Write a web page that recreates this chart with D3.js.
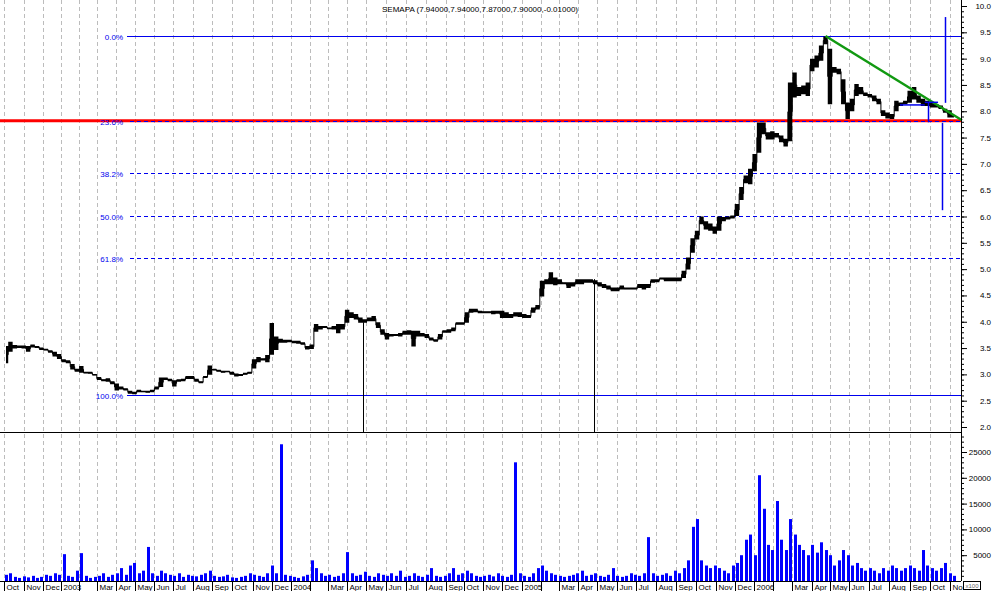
<!DOCTYPE html>
<html><head><meta charset="utf-8">
<script src="https://cdn.jsdelivr.net/npm/d3@7"></script>
<style>
body{margin:0;background:#fff}
svg{display:block}
text{font-family:"Liberation Sans",Arial,sans-serif}
</style>
</head><body>
<svg id="chart" width="994" height="591"></svg>
<script>
// ---------------- DATA ----------------
const symbol = "SEMAPA";
const lastBar = [7.94, 7.94, 7.87, 7.90, -0.01]; // open, high, low, close, change
// weekly samples (trading-week index 0 = week of 2002-09-30)
const highs = [
3.55,3.63,3.57,3.56,3.56,3.55,3.58,3.55,3.52,3.50,
3.47,3.44,3.40,3.30,3.28,3.21,3.12,3.17,3.06,3.06,
3.02,2.96,2.92,2.94,2.88,2.84,2.78,2.75,2.70,2.68,
2.72,2.70,2.70,2.72,2.78,2.95,2.95,2.93,2.90,2.92,
2.93,2.98,2.98,2.93,2.88,2.98,3.18,3.12,3.10,3.08,
3.08,3.06,3.03,3.02,3.04,3.06,3.30,3.34,3.32,3.38,
3.99,3.73,3.69,3.67,3.67,3.65,3.65,3.62,3.55,3.58,
3.97,3.93,3.93,3.90,3.93,3.97,3.97,4.24,4.19,4.16,
4.09,4.06,4.09,4.12,4.00,3.87,3.80,3.78,3.78,3.80,
3.84,3.85,3.84,3.84,3.80,3.78,3.71,3.68,3.78,3.85,
3.87,3.90,4.00,4.00,4.19,4.26,4.26,4.22,4.21,4.21,
4.22,4.22,4.22,4.19,4.16,4.19,4.19,4.16,4.14,4.28,
4.33,4.79,4.82,4.95,4.85,4.82,4.76,4.76,4.76,4.82,
4.82,4.82,4.82,4.80,4.76,4.73,4.70,4.66,4.66,4.70,
4.66,4.66,4.66,4.73,4.73,4.73,4.82,4.82,4.85,4.85,
4.85,4.85,4.85,4.98,5.23,5.60,5.74,6.01,5.92,5.88,
5.82,6.01,6.00,6.01,6.03,6.25,6.57,6.79,6.92,7.20,
7.80,7.80,7.61,7.63,7.60,7.55,7.49,8.56,8.75,8.47,
8.50,8.56,9.01,9.07,9.26,9.43,9.20,8.85,8.82,8.62,
8.18,8.25,8.53,8.47,8.37,8.34,8.31,8.25,8.03,7.99,
7.96,8.21,8.18,8.21,8.40,8.47,8.31,8.25,8.21,8.18,
8.15,8.12,8.06,8.03,7.94];
const lows = [
3.20,3.42,3.48,3.49,3.48,3.42,3.50,3.49,3.45,3.44,
3.40,3.33,3.28,3.22,3.20,3.08,3.04,3.02,3.02,3.00,
2.97,2.88,2.86,2.85,2.80,2.68,2.70,2.68,2.62,2.61,
2.65,2.66,2.64,2.65,2.70,2.75,2.88,2.86,2.76,2.85,
2.86,2.90,2.90,2.85,2.82,2.92,2.98,3.06,3.04,3.02,
3.03,2.98,2.95,2.96,2.98,3.00,3.10,3.22,3.25,3.22,
3.36,3.45,3.59,3.59,3.60,3.58,3.57,3.55,3.46,3.47,
3.80,3.84,3.87,3.85,3.84,3.77,3.84,3.97,4.06,4.03,
3.97,3.97,4.00,4.00,3.87,3.74,3.65,3.71,3.72,3.71,
3.74,3.74,3.52,3.71,3.71,3.68,3.63,3.61,3.65,3.78,
3.78,3.81,3.93,3.93,3.97,4.16,4.17,4.15,4.15,4.15,
4.13,4.14,4.06,4.06,4.06,4.09,4.08,4.06,4.06,4.16,
4.22,4.47,4.70,4.70,4.68,4.70,4.70,4.63,4.66,4.70,
4.70,4.73,4.73,4.70,4.66,4.63,4.60,4.57,4.57,4.60,
4.60,4.60,4.60,4.63,4.60,4.63,4.73,4.74,4.79,4.76,
4.76,4.76,4.76,4.82,4.98,5.30,5.55,5.84,5.74,5.72,
5.66,5.72,5.90,5.93,5.95,6.00,6.30,6.62,6.60,6.85,
7.20,7.55,7.45,7.45,7.49,7.40,7.32,7.42,8.25,8.28,
8.31,8.28,8.75,8.82,8.95,9.26,8.12,8.72,8.69,8.12,
7.84,7.99,8.28,8.31,8.28,8.25,8.18,8.12,7.90,7.85,
7.84,7.99,8.09,8.12,8.15,8.21,8.15,8.09,8.09,8.06,
8.06,8.03,7.96,7.87,7.87];
const volumes = [ // x100 shares, peak session of each week
1200,1500,800,600,900,700,1000,600,800,1200,
1000,1500,1200,5200,1000,800,2000,5400,1000,600,
800,1000,1500,800,1200,1500,2500,1200,3000,3500,
1500,2000,6600,1500,1000,2000,1500,1200,1000,1500,
800,1200,1000,900,1200,1500,2000,1000,800,900,
1200,700,600,800,1000,1500,1200,1000,800,1500,
3000,1500,26500,1200,1000,800,600,900,1200,4000,
2500,1500,1000,1200,800,1000,1500,5600,1500,1000,
1200,1800,1000,800,1500,1200,1000,1500,1000,2000,
800,1000,1500,1000,800,1200,2500,1000,800,1000,
1500,2500,1200,1500,2000,1500,1000,800,1000,1200,
900,1500,1000,800,1200,23000,1500,1000,800,1500,
2500,3000,2000,1500,1200,1000,800,1000,1200,1500,
2000,1000,1200,1500,1000,800,1200,2500,1000,800,
1000,1500,1200,1000,1500,8500,1500,1000,1200,1500,
1000,2000,1500,2500,4000,10500,12000,4000,3000,2500,
3000,2500,2000,1500,3000,3500,5000,8000,9000,5000,
20500,14000,7000,6000,15500,8000,6000,12000,9000,7000,
6000,5000,7000,5500,7500,6000,5000,3000,4000,6000,
5000,3000,3500,2500,2000,2500,2000,1500,2500,2000,
3000,2500,2000,2500,3000,2500,2000,6000,3000,2500,
2000,2500,3500,1500,1000];

// month axis: label and the week index where each month starts
const monthNames = ["Oct","Nov","Dec","2003","Feb","Mar","Apr","May","Jun","Jul","Aug","Sep","Oct","Nov","Dec",
  "2004","Feb","Mar","Apr","May","Jun","Jul","Aug","Sep","Oct","Nov","Dec",
  "2005","Feb","Mar","Apr","May","Jun","Jul","Aug","Sep","Oct","Nov","Dec",
  "2006","Feb","Mar","Apr","May","Jun","Jul","Aug","Sep","Oct","Nov"];
const monthStartWeek = [-0.45,4.06,8.35,12.42,16.48,20.54,24.83,29.1,33.4,37.7,42.2,46.5,51.0,55.8,60.0,
  64.3,68.6,72.7,77.0,81.3,85.8,90.3,94.8,99.3,103.4,107.7,112.0,
  116.5,120.8,124.8,129.1,133.4,137.9,142.2,146.7,151.2,155.8,160.3,164.6,
  168.8,173.1,177.4,181.9,186.0,190.3,194.8,199.3,204.1,208.6,213.1];
const hiddenMonthLabels = ["Feb"]; // crowded out by the year label

const priceTickLabels = ["2.0","2.5","3.0","3.5","4.0","4.5","5.0","5.5","6.0","6.5","7.0","7.5","8.0","8.5","9.0","9.5","10.0"];
const volumeTickLabels = ["5000","10000","15000","20000","25000"];

// Fibonacci retracement between swing low and swing high
const fibHigh = 9.43, fibLow = 2.605;
const fibLevels = [0, 23.6, 38.2, 50.0, 61.8, 100.0];
// drawn objects in (week index, price)
const trendLine = [[185, 9.43], [215.8, 7.83]];
const redLevel = 7.82;
const blueVerticals = [[211.96, 9.79, 8.16], [211.3, 7.78, 6.12], [208.1, 8.17, 7.79]];
const blueHorizontals = [[201.8, 207.4, 8.12], [207.4, 210.4, 8.17]];
const blackVerticals = [[80.6, 3.99], [132.7, 4.81]];

// ---------------- CHART ----------------
const svg = d3.select("#chart");
const H = 591;
const plotRight = 961, sepY = 432, volBase = 581;

const bars = highs.map((h, i) => ({i, high: h, low: lows[i], vol: volumes[i]}));

const x = d3.scaleLinear().domain([0, highs.length - 1]).range([6, 954]);
const y = d3.scaleLinear().domain([2, 10]).range([427, 6]);
const yv = d3.scaleLinear().domain([0, 25000]).range([volBase, volBase - 129]);

const defs = svg.append("defs");
defs.append("clipPath").attr("id", "plot").append("rect").attr("x", 0).attr("y", 0).attr("width", plotRight).attr("height", sepY);
defs.append("clipPath").attr("id", "vol").append("rect").attr("x", 0).attr("y", sepY).attr("width", plotRight).attr("height", volBase - sepY);

const months = monthNames.map((n, k) => ({name: n, w: monthStartWeek[k]}));
const px = v => Math.round(x(v)) + 0.5;

// month grid
svg.append("g").selectAll("line").data(months).join("line")
  .attr("x1", d => px(d.w)).attr("x2", d => px(d.w))
  .attr("y1", 0).attr("y2", volBase)
  .attr("stroke", "#bcbcbc").attr("stroke-dasharray", "4,3");

// Fibonacci lines
const fibPrice = p => fibHigh - (fibHigh - fibLow) * p / 100;
const fib = svg.append("g").attr("clip-path", "url(#plot)");
fib.append("line").attr("x1", 0).attr("x2", plotRight)
  .attr("y1", y(redLevel)).attr("y2", y(redLevel))
  .attr("stroke", "#ff0000").attr("stroke-width", 3);
fibLevels.forEach(p => {
  const yy = Math.round(y(fibPrice(p))) + 0.5;
  const solid = (p === 0 || p === 100);
  fib.append("line").attr("x1", solid ? 127 : 130).attr("x2", plotRight)
    .attr("y1", yy).attr("y2", yy)
    .attr("stroke", "#0000ee").attr("stroke-width", 1)
    .attr("stroke-dasharray", solid ? null : "4,3");
  svg.append("text").attr("x", 123).attr("y", yy + 3)
    .attr("text-anchor", "end").attr("font-size", 8).attr("fill", "#0000ee")
    .text(p.toFixed(1) + "%");
});

// price band (weekly high-low range) plus a thin connecting mid line
const yTop = d => y(d.high) + 0.6;
const yBot = d => Math.max(y(d.low) - 0.6, yTop(d) + 1.6);
const band = d3.area().curve(d3.curveStep).x(d => x(d.i)).y0(yBot).y1(yTop);
const pg = svg.append("g").attr("clip-path", "url(#plot)");
pg.append("path").datum(bars).attr("d", band).attr("fill", "#000");
pg.append("path").datum(bars)
  .attr("d", d3.line().curve(d3.curveStep).x(d => x(d.i)).y(d => (yTop(d) + yBot(d)) / 2))
  .attr("fill", "none").attr("stroke", "#000").attr("stroke-width", 1);

// black vertical lines down to separator
svg.append("g").selectAll("line").data(blackVerticals).join("line")
  .attr("x1", d => px(d[0])).attr("x2", d => px(d[0]))
  .attr("y1", d => y(d[1])).attr("y2", sepY).attr("stroke", "#000");

// trend line
svg.append("line").attr("x1", x(trendLine[0][0])).attr("y1", y(trendLine[0][1]))
  .attr("x2", x(trendLine[1][0])).attr("y2", y(trendLine[1][1]))
  .attr("stroke", "#119911").attr("stroke-width", 2.5);

// blue drawn objects
const blueG = svg.append("g").attr("stroke", "#0000ee").attr("stroke-width", 1.5);
blueVerticals.forEach(d => {
  blueG.append("line").attr("x1", px(d[0])).attr("x2", px(d[0])).attr("y1", y(d[1])).attr("y2", y(d[2]));
});
blueHorizontals.forEach(d => {
  blueG.append("line").attr("x1", x(d[0])).attr("x2", x(d[1])).attr("y1", y(d[2])).attr("y2", y(d[2]));
});

// volume bars
svg.append("g").attr("clip-path", "url(#vol)").selectAll("rect").data(bars).join("rect")
  .attr("x", d => Math.round(x(d.i)) - 1).attr("width", 3)
  .attr("y", d => yv(d.vol)).attr("height", d => volBase - yv(d.vol))
  .attr("fill", "#0000ff");

// frame lines
svg.append("line").attr("x1", 0).attr("x2", plotRight).attr("y1", sepY + 0.5).attr("y2", sepY + 0.5).attr("stroke", "#000");
svg.append("line").attr("x1", 0).attr("x2", plotRight).attr("y1", volBase + 0.5).attr("y2", volBase + 0.5).attr("stroke", "#000");
svg.append("line").attr("x1", plotRight + 0.5).attr("x2", plotRight + 0.5).attr("y1", 0).attr("y2", volBase).attr("stroke", "#000");

// price axis
const pa = svg.append("g").attr("transform", `translate(${plotRight},0)`);
pa.call(d3.axisRight(y).tickValues(d3.range(20, 101, 1).map(v => v / 10)).tickSize(3).tickFormat(""))
  .call(g => g.select(".domain").remove());
pa.append("g").call(d3.axisRight(y).tickValues(priceTickLabels.map(Number)).tickSize(6).tickFormat(""))
  .call(g => g.select(".domain").remove());
svg.append("g").selectAll("text").data(priceTickLabels).join("text")
  .attr("x", 991).attr("y", d => y(+d) + 3).attr("text-anchor", "end")
  .attr("font-size", 8).text(d => d);

// volume axis
const va = svg.append("g").attr("transform", `translate(${plotRight},0)`);
va.call(d3.axisRight(yv).tickValues(d3.range(1000, 28001, 1000)).tickSize(3).tickFormat(""))
  .call(g => g.select(".domain").remove());
va.append("g").call(d3.axisRight(yv).tickValues(volumeTickLabels.map(Number)).tickSize(6).tickFormat(""))
  .call(g => g.select(".domain").remove());
va.selectAll(".tick").filter(d => yv(d) < sepY + 2).remove();
svg.append("g").selectAll("text").data(volumeTickLabels).join("text")
  .attr("x", 991).attr("y", d => yv(+d) + 3).attr("text-anchor", "end")
  .attr("font-size", 8).text(d => d);
svg.append("rect").attr("x", 963.5).attr("y", 581.5).attr("width", 17).attr("height", 8)
  .attr("fill", "#fff").attr("stroke", "#000");
svg.append("text").attr("x", 972).attr("y", 588).attr("text-anchor", "middle")
  .attr("font-size", 6).attr("fill", "#666").text("x100");

// time axis: tick marks and labels (labels trimmed at the plot edge)
const tl = svg.append("g");
months.forEach(m => {
  const xx = px(m.w);
  if (xx > plotRight) return;
  tl.append("line").attr("x1", xx).attr("x2", xx).attr("y1", volBase).attr("y2", H).attr("stroke", "#000");
  if (hiddenMonthLabels.includes(m.name)) return;
  const t = tl.append("text").attr("x", xx + 2).attr("y", 590).attr("font-size", 8).text(m.name);
  let s = m.name;
  while (s.length > 1 && xx + 2 + t.node().getComputedTextLength() > plotRight + 2) {
    s = s.slice(0, -1); t.text(s);
  }
});

// title
svg.append("text").attr("x", 480).attr("y", 12).attr("text-anchor", "middle").attr("font-size", 8)
  .text(`${symbol} (${lastBar.map(v => v.toFixed(5)).join(",")})`);
</script>
</body></html>
